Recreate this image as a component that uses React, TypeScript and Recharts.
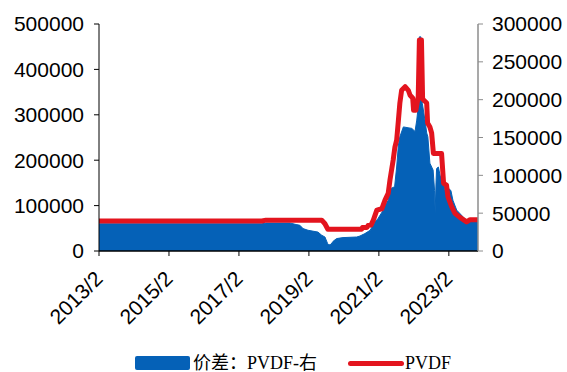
import React from 'react';
import { ComposedChart, Area, Line, XAxis, YAxis } from 'recharts';

// x positions are months since 2013/2
const pvdfMonths = [0, 55.9, 57.3, 76.4, 77.5, 78.5, 90.1, 90.4, 91.9, 92.3, 93.3, 94.1, 95.3, 97.0, 98.1, 99.2, 99.8, 100.9, 101.5, 102.1, 102.7, 103.2, 103.8, 105.0, 106.1, 106.7, 107.6, 107.9, 108.7, 109.5, 109.9, 110.6, 111.0, 112.4, 112.7, 113.5, 114.1, 114.7, 117.5, 118.2, 119.2, 119.7, 121.0, 122.1, 123.8, 126.1, 127.3, 130];
const pvdfValues = [66000, 66000, 68000, 68000, 60000, 48000, 48000, 52000, 52000, 56000, 57000, 68000, 90000, 93000, 112000, 127000, 156000, 200000, 229000, 244000, 288000, 326000, 354000, 362000, 354000, 343000, 337000, 310000, 310000, 340000, 465000, 465000, 335000, 326000, 282000, 273000, 260000, 215000, 215000, 149000, 145000, 119000, 97000, 83000, 74000, 64000, 69000, 69000];

const spreadMonths = [0, 55.9, 57.3, 65.5, 67.6, 68.9, 70.0, 71.7, 75.1, 76.4, 77.5, 78.4, 78.9, 79.6, 80.3, 81.5, 83.7, 88.4, 89.5, 91.2, 93.0, 94.7, 95.7, 97.5, 98.1, 99.2, 99.8, 101.4, 102.1, 102.7, 103.2, 104.4, 107.3, 108.4, 109.0, 109.6, 109.9, 110.4, 110.9, 111.8, 112.4, 112.8, 113.5, 114.6, 115.1, 115.3, 115.6, 115.8, 116.4, 117.0, 118.0, 118.7, 119.8, 120.7, 121.4, 122.7, 124.9, 126.6, 127.9, 130];
const spreadValues = [36000, 36000, 37000, 37000, 35000, 34000, 29600, 27400, 25000, 20800, 18500, 10000, 8000, 9000, 12800, 16400, 17700, 18500, 19800, 23000, 27400, 38400, 42900, 54000, 60000, 67000, 82000, 85000, 111000, 140000, 151000, 164000, 162000, 158000, 173000, 195000, 283000, 283000, 195000, 173000, 156000, 151000, 116000, 107000, 80000, 50000, 90000, 109000, 111000, 100000, 93000, 80000, 83000, 80000, 67000, 54000, 45000, 38400, 40000, 41500];

const xTickMonths = [0, 24, 48, 72, 96, 120];
const xTickLabels = ['2013/2', '2015/2', '2017/2', '2019/2', '2021/2', '2023/2'];
const leftTicks = [0, 100000, 200000, 300000, 400000, 500000];
const rightTicks = [0, 50000, 100000, 150000, 200000, 250000, 300000];

const seriesNames = { spread: '价差：PVDF-右', pvdf: 'PVDF' };

const BLUE = '#0561B7';
const RED = '#E3141E';
const AXIS_FONT = "'Liberation Sans', Arial, sans-serif";

const pvdfData = pvdfMonths.map((m, i) => ({ m, pvdf: pvdfValues[i] }));
const spreadData = spreadMonths.map((m, i) => ({ m, spread: spreadValues[i] }));

const XTick = (props: any) => {
  const { x, y, payload } = props;
  const idx = xTickMonths.indexOf(payload.value);
  const label = idx >= 0 ? xTickLabels[idx] : '';
  const ax = x + 5;
  const ay = y + 24;
  return (
    <text
      x={ax}
      y={ay}
      textAnchor="end"
      fontSize={21}
      fontFamily={AXIS_FONT}
      fill="#000"
      transform={`rotate(-45, ${ax}, ${ay})`}
    >
      {label}
    </text>
  );
};

export default function App() {
  return (
    <div style={{ position: 'absolute', left: 0, top: 0, width: 567, height: 372, background: '#fff' }}>
      <ComposedChart width={567} height={372} margin={{ top: 24, right: 0, left: 0, bottom: 0 }}>
        <XAxis
          dataKey="m"
          type="number"
          domain={[0, 130]}
          ticks={xTickMonths}
          allowDataOverflow
          interval={0}
          height={121}
          tickSize={5}
          tickMargin={0}
          axisLine={{ stroke: '#000', strokeWidth: 1.5 }}
          tickLine={{ stroke: '#000' }}
          tick={<XTick />}
        />
        <YAxis
          yAxisId="left"
          domain={[0, 500000]}
          ticks={leftTicks}
          width={99}
          tickSize={5}
          tickMargin={10}
          axisLine={{ stroke: '#000' }}
          tickLine={{ stroke: '#000' }}
          tick={{ fontSize: 21, fill: '#000', fontFamily: AXIS_FONT }}
          interval={0}
        />
        <YAxis
          yAxisId="right"
          orientation="right"
          domain={[0, 300000]}
          ticks={rightTicks}
          width={89}
          tickSize={5}
          tickMargin={9}
          axisLine={{ stroke: '#8c8c8c', strokeWidth: 1.5 }}
          tickLine={{ stroke: '#8c8c8c' }}
          tick={{ fontSize: 21, fill: '#000', fontFamily: AXIS_FONT }}
          interval={0}
        />
        <Area
          yAxisId="right"
          data={spreadData}
          dataKey="spread"
          name={seriesNames.spread}
          type="linear"
          fill={BLUE}
          fillOpacity={1}
          stroke={BLUE}
          strokeWidth={1}
          isAnimationActive={false}
        />
        <Line
          yAxisId="left"
          data={pvdfData}
          dataKey="pvdf"
          name={seriesNames.pvdf}
          type="linear"
          stroke={RED}
          strokeWidth={5}
          strokeLinejoin="round"
          dot={false}
          activeDot={false}
          isAnimationActive={false}
        />
      </ComposedChart>
      <div
        style={{
          position: 'absolute',
          left: 0,
          top: 0,
          width: 567,
          height: 372,
          pointerEvents: 'none',
          fontFamily: "'Liberation Serif', 'Noto Sans CJK SC', serif",
          fontSize: 18,
          color: '#000',
        }}
      >
        <div style={{ position: 'absolute', left: 135, top: 356, width: 55, height: 14, background: BLUE, borderRadius: 2 }} />
        <div style={{ position: 'absolute', left: 193, top: 353, lineHeight: '20px', whiteSpace: 'nowrap' }}>{seriesNames.spread}</div>
        <div style={{ position: 'absolute', left: 348, top: 360.5, width: 56, height: 5, background: RED, borderRadius: 3 }} />
        <div style={{ position: 'absolute', left: 405, top: 353, lineHeight: '20px', whiteSpace: 'nowrap' }}>{seriesNames.pvdf}</div>
      </div>
    </div>
  );
}
